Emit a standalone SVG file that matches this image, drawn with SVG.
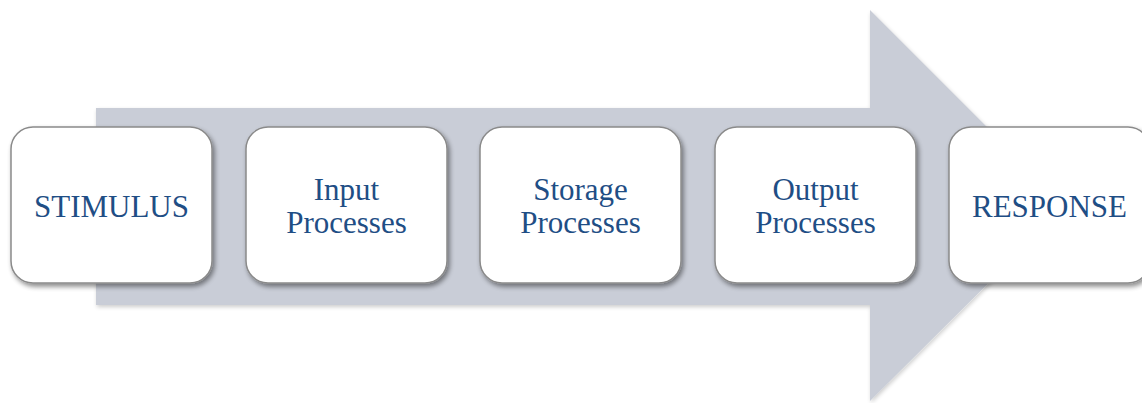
<svg xmlns="http://www.w3.org/2000/svg" width="1142" height="403" viewBox="0 0 1142 403">
<defs>
<filter id="sh" x="-10%" y="-10%" width="125%" height="130%">
<feGaussianBlur in="SourceAlpha" stdDeviation="2.5"/>
<feOffset dx="2" dy="3" result="b"/>
<feComponentTransfer><feFuncA type="linear" slope="0.45"/></feComponentTransfer>
<feMerge><feMergeNode/><feMergeNode in="SourceGraphic"/></feMerge>
</filter>
<filter id="ash" x="-5%" y="-5%" width="110%" height="115%">
<feGaussianBlur in="SourceAlpha" stdDeviation="2"/>
<feOffset dx="1" dy="2"/>
<feComponentTransfer><feFuncA type="linear" slope="0.2"/></feComponentTransfer>
<feMerge><feMergeNode/><feMergeNode in="SourceGraphic"/></feMerge>
</filter>
</defs>
<style>
.box{fill:#ffffff;stroke:#8a8a8a;stroke-width:1.5;filter:url(#sh)}
.t{font-family:"Liberation Serif","Times New Roman",serif;font-size:31px;fill:#1f4e85;text-anchor:middle}
</style>
<rect width="1142" height="403" fill="#ffffff"/>
<g id="arrow">
<polygon points="96,108 870,108 870,10 1066,206 870,401 870,305 96,305" fill="#c9cdd7" filter="url(#ash)"/>
</g>
<g id="connectors"></g>
<g id="stimulus">
<rect class="box" x="11" y="127" width="201" height="156" rx="22"/>
<text class="t" x="111.5" y="217">STIMULUS</text>
</g>
<g id="input">
<rect class="box" x="246" y="127" width="201" height="156" rx="22"/>
<text class="t" x="346.5" y="199.5">Input</text>
<text class="t" x="346.5" y="233">Processes</text>
</g>
<g id="storage">
<rect class="box" x="480" y="127" width="201" height="156" rx="22"/>
<text class="t" x="580.5" y="199.5">Storage</text>
<text class="t" x="580.5" y="233">Processes</text>
</g>
<g id="output">
<rect class="box" x="715" y="127" width="201" height="156" rx="22"/>
<text class="t" x="815.5" y="199.5">Output</text>
<text class="t" x="815.5" y="233">Processes</text>
</g>
<g id="response">
<rect class="box" x="949" y="127" width="201" height="156" rx="22"/>
<text class="t" x="1049.5" y="217">RESPONSE</text>
</g>
</svg>
